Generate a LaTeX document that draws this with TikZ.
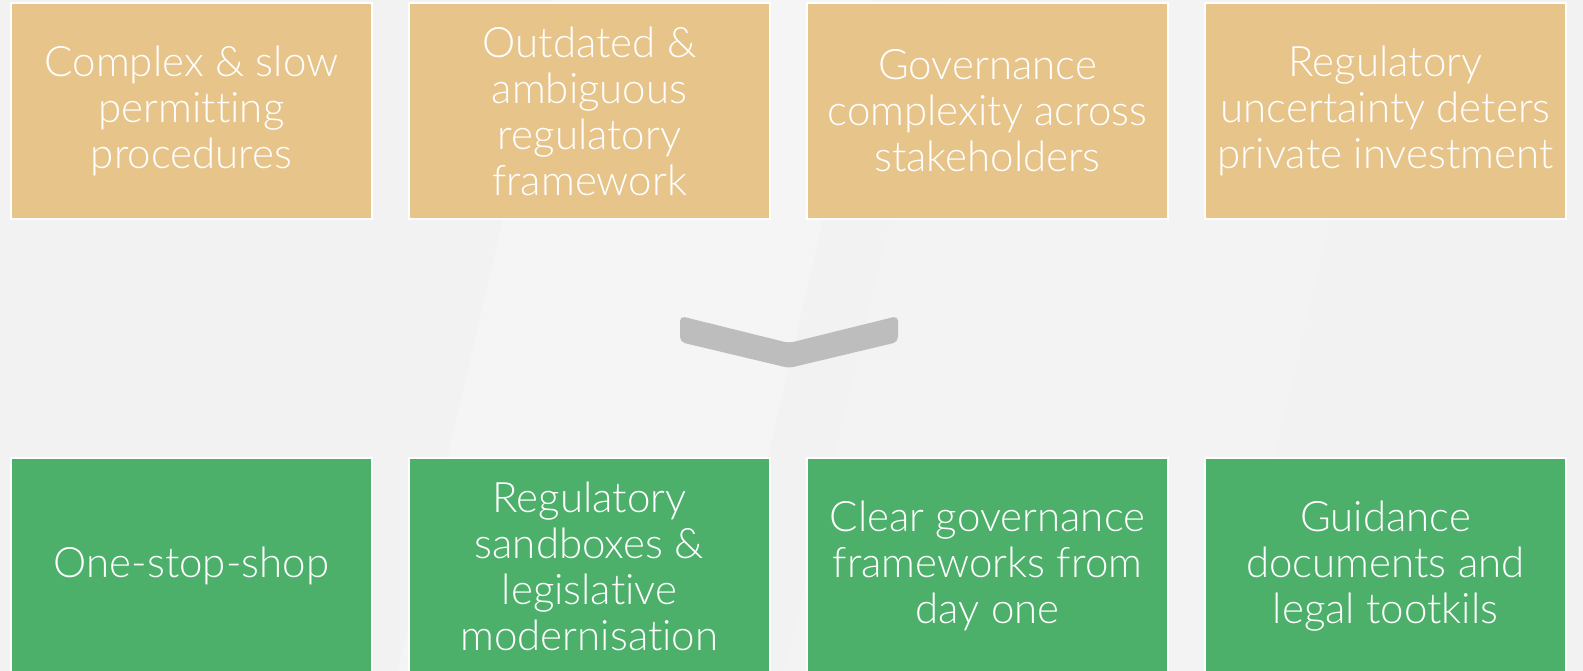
\documentclass[tikz,border=0pt]{standalone}
\usepackage{fontspec}
\setmainfont{Lato}[UprightFont=* Light,Ligatures=NoCommon,Contextuals=NoAlternate]
\usetikzlibrary{positioning}
\definecolor{fond}{HTML}{F2F2F2}
\definecolor{sable}{HTML}{E6C48A}
\definecolor{vert}{HTML}{4CAF6A}
\definecolor{gris}{HTML}{BDBDBD}
\tikzset{
  boite/.style={draw=white,line width=2pt,minimum width=361pt,minimum height=216pt,
    text=white,align=center,font=\fontsize{42}{46}\selectfont,inner sep=0pt},
  probleme/.style={boite,fill=sable},
  solution/.style={boite,fill=vert}
}
\begin{document}
\begin{tikzpicture}[x=1pt,y=-1pt]
  \fill [fond] (0,0) rectangle (1583,671);
  \useasboundingbox (0,0) rectangle (1583,671);
  % bandes claires en biais
  \fill [white,opacity=0.3] (554,0) -- (874,0) -- (718,671) -- (398,671) -- cycle;
  \fill [white,opacity=0.15] (941,0) -- (1381,0) -- (1225,671) -- (785,671) -- cycle;
  \node [probleme] (pb1) at (191.5,111) {Complex \& slow\\permitting\\procedures};
  \node [probleme,right=35pt of pb1] (pb2) {Outdated \&\\ambiguous\\regulatory\\framework};
  \node [probleme,right=35pt of pb2] (pb3) {Governance\\complexity across\\stakeholders};
  \node [probleme,right=35pt of pb3] (pb4) {Regulatory\\uncertainty deters\\private investment};
  \node [solution] (so1) at (191.5,566) {One-stop-shop};
  \node [solution,right=35pt of so1] (so2) {Regulatory\\sandboxes \&\\legislative\\modernisation};
  \node [solution,right=35pt of so2] (so3) {Clear governance\\frameworks from\\day one};
  \node [solution,right=35pt of so3] (so4) {Guidance\\documents and\\legal tootkils};
  \coordinate (pointe) at (789,343);
  \fill [gris,rounded corners=5pt] (680,316) -- (pointe) -- (898,316) -- (898,342)
    -- (789,368) -- (680,342) -- cycle;%chevron
\end{tikzpicture}
\end{document}
